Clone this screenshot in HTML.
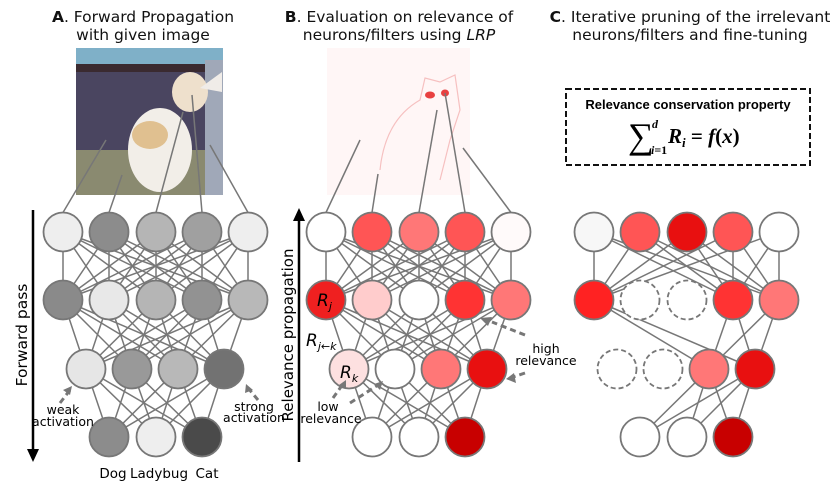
<!DOCTYPE html>
<html><head><meta charset="utf-8"><style>
html,body{margin:0;padding:0;background:#fff}
svg{display:block;font-family:"DejaVu Sans","Liberation Sans",sans-serif}
</style></head><body>
<svg id="s" width="833" height="485" viewBox="0 0 833 485">
<g font-size="15.5" text-anchor="middle" fill="#111">
<text x="143" y="22"><tspan font-weight="bold">A</tspan>. Forward Propagation</text>
<text x="143" y="40">with given image</text></g>
<g font-size="15.5" text-anchor="middle" fill="#111">
<text x="399" y="22"><tspan font-weight="bold">B</tspan>. Evaluation on relevance of</text>
<text x="399" y="40">neurons/filters using <tspan font-style="italic">LRP</tspan></text></g>
<g font-size="15.5" text-anchor="middle" fill="#111">
<text x="690" y="22"><tspan font-weight="bold">C</tspan>. Iterative pruning of the irrelevant</text>
<text x="690" y="40">neurons/filters and fine-tuning</text></g>

<g>
<rect x="76" y="48" width="147" height="147" fill="#4a4560"/>
<rect x="76" y="48" width="147" height="16" fill="#7fb0c8"/>
<rect x="76" y="64" width="147" height="8" fill="#3a2a30"/>
<rect x="76" y="150" width="147" height="45" fill="#8a8a70"/>
<rect x="205" y="60" width="18" height="135" fill="#a0a8b8"/>
<ellipse cx="160" cy="150" rx="32" ry="42" fill="#f2eee8"/>
<ellipse cx="190" cy="92" rx="18" ry="20" fill="#eee0cc"/>
<ellipse cx="150" cy="135" rx="18" ry="14" fill="#e0c090"/>
<polygon points="200,88 222,72 222,92" fill="#f0ece8"/>
</g>
<g>
<rect x="327" y="48" width="143" height="147" fill="#fff6f6"/>
<path d="M380,170 Q385,120 420,100 L425,78 L440,82 L455,75 L460,110 L450,140 L440,180" fill="none" stroke="#f6c0c0" stroke-width="1.2"/>
<ellipse cx="430" cy="95" rx="5" ry="3.5" fill="#e84040"/>
<ellipse cx="445" cy="93" rx="4" ry="3.5" fill="#e84040"/>
</g>

<g id="links" stroke="#777" stroke-width="1.5" fill="none"></g>
<g id="nodes" stroke="#777" stroke-width="1.8"></g>

<g>
<line x1="33" y1="210" x2="33" y2="450" stroke="#000" stroke-width="2.5"/>
<polygon points="27,449 39,449 33,462" fill="#000"/>
<text transform="translate(27,335) rotate(-90)" font-size="15.5" text-anchor="middle">Forward pass</text></g>
<g>
<line x1="299" y1="220" x2="299" y2="462" stroke="#000" stroke-width="2.5"/>
<polygon points="293,221 305,221 299,208" fill="#000"/>
<text transform="translate(293,335) rotate(-90)" font-size="15" text-anchor="middle">Relevance propagation</text></g>

<g font-size="13.5" text-anchor="middle">
<text x="113" y="478">Dog</text><text x="159" y="478">Ladybug</text><text x="207" y="478">Cat</text></g>

<g stroke="#777" stroke-width="3" stroke-dasharray="6,4" fill="none">
<line x1="60" y1="403" x2="70" y2="390"/><line x1="258" y1="400" x2="248" y2="388"/>
<line x1="525" y1="335" x2="492" y2="322"/><line x1="525" y1="373" x2="510" y2="378"/>
<line x1="333" y1="398" x2="343" y2="384"/><line x1="350" y1="403" x2="378" y2="385"/>
</g>
<g fill="#777">
<polygon points="72,386 63,390 70,395"/><polygon points="246,384 245,393 253,390"/>
<polygon points="480,318 492,317 488,326"/><polygon points="506,379 514,373 516,383"/>
<polygon points="346,380 339,385 346,389"/><polygon points="383,381 374,384 380,390"/>
</g>
<g font-size="12.5" text-anchor="middle">
<text x="63" y="414">weak</text><text x="63" y="426">activation</text>
<text x="254" y="411">strong</text><text x="254" y="422">activation</text>
<text x="546" y="353">high</text><text x="546" y="365">relevance</text>
<text x="328" y="411">low</text><text x="331" y="423">relevance</text>
</g>
<g font-style="italic" font-size="17">
<text x="317" y="306">R<tspan font-size="11" dy="4">j</tspan></text>
<text x="306" y="346">R<tspan font-size="11" dy="4">j←k</tspan></text>
<text x="340" y="378">R<tspan font-size="11" dy="4">k</tspan></text>
</g>

<g>
<rect x="566" y="89" width="244" height="76" fill="none" stroke="#111" stroke-width="2" stroke-dasharray="6,3"/>
<text x="688" y="109" font-size="13" font-weight="bold" text-anchor="middle" font-family="Liberation Sans,sans-serif">Relevance conservation property</text>
<text x="628" y="148" font-size="36" font-family="Liberation Serif,serif">∑</text>
<text x="652" y="128" font-size="12" font-family="Liberation Serif,serif" font-style="italic" font-weight="bold">d</text>
<text x="651" y="154" font-size="12" font-family="Liberation Serif,serif" font-weight="bold"><tspan font-style="italic">i</tspan>=1</text>
<text x="668" y="143" font-size="21" font-family="Liberation Serif,serif" font-weight="bold"><tspan font-style="italic">R</tspan><tspan font-size="13" dy="4" font-style="italic">i</tspan><tspan dy="-4"> = </tspan><tspan font-style="italic">f</tspan>(<tspan font-style="italic">x</tspan>)</text>
</g>
</svg>
<script>
const layerY=[232,300,369,437];
const colsA=[[63,109,156,202,248],[63,109,156,202,248],[86,132,178,224],[109,156,202]];
const offB=263, offC=531;
const fillA=[["#eee","#8c8c8c","#b5b5b5","#a0a0a0","#eee"],["#8a8a8a","#e8e8e8","#b5b5b5","#929292","#b8b8b8"],["#e6e6e6","#999","#b8b8b8","#727272"],["#8c8c8c","#eee","#4a4a4a"]];
const fillB=[["#fff","#f55","#f77","#f55","#fffafa"],["#ef2020","#fcc","#fff","#f33","#f77"],["#fde0e0","#fff","#f77","#e81010"],["#fff","#fff","#c80000"]];
const fillC=[["#f7f7f7","#f55","#e81010","#f55","#fff"],["#f22",null,null,"#f33","#f77"],[null,null,"#f77","#e81010"],["#fff","#fff","#c80000"]];
const imgA=[[106,140],[122,175],[183,112],[192,95],[210,145]];
const imgB=[[360,140],[378,174],[437,110],[445,93],[463,148]];
const R=19.5, NS="http://www.w3.org/2000/svg";
const L=document.getElementById('links'), N=document.getElementById('nodes');
function line(x1,y1,x2,y2){const l=document.createElementNS(NS,'line');
l.setAttribute('x1',x1);l.setAttribute('y1',y1);l.setAttribute('x2',x2);l.setAttribute('y2',y2);


L.appendChild(l);}
function panel(off,fills,img,name){
  if(img) img.forEach((p,i)=>line(p[0],p[1],colsA[0][i]+off,layerY[0]-R));
  for(let k=0;k<3;k++){colsA[k].forEach((x1,i)=>{colsA[k+1].forEach((x2,j)=>{
    if(fills[k][i]===null||fills[k+1][j]===null)return;
    line(x1+off,layerY[k],x2+off,layerY[k+1]);});});}
  fills.forEach((row,k)=>row.forEach((f,i)=>{const c=document.createElementNS(NS,'circle');
    c.setAttribute('cx',colsA[k][i]+off);c.setAttribute('cy',layerY[k]);c.setAttribute('r',R);
    if(f===null){c.setAttribute('fill','#fff');c.setAttribute('stroke-dasharray','5,3');}else c.setAttribute('fill',f);
    
    
    N.appendChild(c);}));
}
panel(0,fillA,imgA,'panel-a');panel(offB,fillB,imgB,'panel-b');panel(offC,fillC,null,'panel-c');
</script>
</body></html>
